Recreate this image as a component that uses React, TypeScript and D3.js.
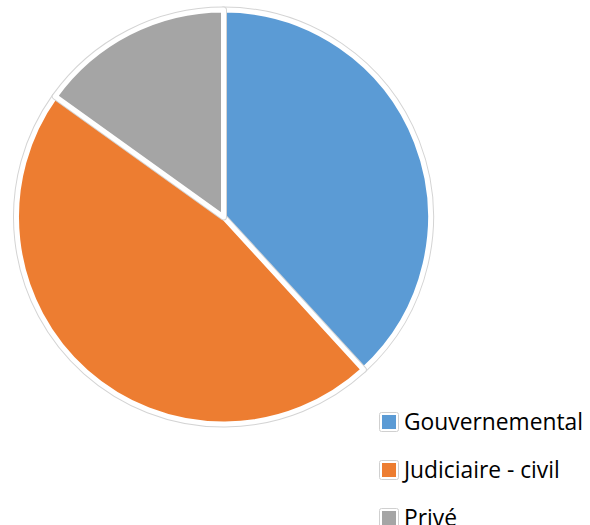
import React from 'react';
import * as d3 from 'd3';

const categories = ['Gouvernemental', 'Judiciaire - civil', 'Privé'];
const values = [38.2, 46.7, 15.1];
const colors = ['#5B9BD5', '#ED7D31', '#A5A5A5'];

const W = 590;
const H = 525;
const cx = 223.5;
const cy = 217;
const radius = 207;

const App: React.FC = () => {
  const pie = d3.pie<number>().sort(null).value(d => d);
  const arcs = pie(values);
  const arc = d3.arc<d3.PieArcDatum<number>>().innerRadius(0).outerRadius(radius);

  const legendY = d3.scalePoint<string>().domain(categories).range([421, 517]);

  return (
    <div style={{ position: 'absolute', left: 0, top: 0 }}>
      <svg width={W} height={H} style={{ display: 'block', background: '#fff' }}>
        <g transform={`translate(${cx},${cy})`}>
          {arcs.map((a, i) => (
            <g key={i}>
              <path d={arc(a) || ''} fill="none" stroke="#d4d4d4" strokeWidth={7} strokeLinejoin="round" />
              <path d={arc(a) || ''} fill={colors[i]} stroke="#fff" strokeWidth={5} strokeLinejoin="round" />
            </g>
          ))}
        </g>
        <g fontFamily="'Open Sans', sans-serif" fontSize={22.8} fill="#000">
          {categories.map((c, i) => {
            const y = legendY(c) as number;
            return (
              <g key={c}>
                <rect x={379.5} y={y - 8.5} width={19} height={19} rx={2} fill="#fff" stroke="#d0d0d0" strokeWidth={1} />
                <rect x={382} y={y - 6} width={14} height={14} fill={colors[i]} />
                <text x={404} y={y + 9}>{c}</text>
              </g>
            );
          })}
        </g>
      </svg>
    </div>
  );
};

export default App;
